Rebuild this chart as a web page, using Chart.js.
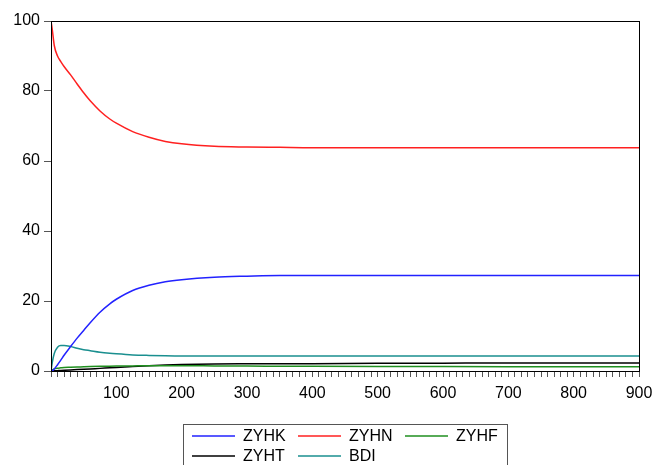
<!DOCTYPE html>
<html>
<head>
<meta charset="utf-8">
<script src="https://cdn.jsdelivr.net/npm/chart.js@4"></script>
<style>
    body { margin: 0; background: #fff; }
    #wrap { width: 656px; height: 465px; }
</style>
</head>
<body>
<div id="wrap"><canvas id="irfChart" width="656" height="465"></canvas></div>
<script>
const periods = [0, 2, 5, 10, 15, 20, 30, 40, 50, 60, 75, 90, 100, 125, 150, 175, 200, 250, 300, 350, 400, 500, 600, 700, 800, 900];

const zyhk = [0, 0.1, 0.6, 1.8, 3.1, 4.5, 7.0, 9.4, 11.6, 13.8, 16.8, 19.2, 20.5, 23.0, 24.5, 25.5, 26.1, 26.8, 27.1, 27.3, 27.3, 27.3, 27.3, 27.3, 27.3, 27.3];
const zyhn = [100, 97.5, 93, 90, 88.4, 87.0, 84.6, 82.0, 79.5, 77.2, 74.3, 72.0, 70.8, 68.4, 66.8, 65.6, 64.9, 64.2, 64.0, 63.9, 63.8, 63.8, 63.8, 63.8, 63.8, 63.8];
const zyhf = [0, 0.3, 0.6, 0.8, 0.9, 1.0, 1.05, 1.12, 1.2, 1.27, 1.34, 1.38, 1.4, 1.45, 1.5, 1.5, 1.5, 1.45, 1.4, 1.38, 1.35, 1.3, 1.27, 1.24, 1.22, 1.2];
const zyht = [0, 0.02, 0.05, 0.1, 0.15, 0.2, 0.3, 0.4, 0.5, 0.6, 0.75, 0.9, 1.0, 1.25, 1.5, 1.7, 1.85, 2.0, 2.05, 2.08, 2.1, 2.2, 2.25, 2.3, 2.3, 2.3];
const bdi = [0, 2.5, 5.0, 6.8, 7.3, 7.3, 7.0, 6.5, 6.1, 5.8, 5.35, 5.05, 4.9, 4.6, 4.45, 4.35, 4.3, 4.3, 4.3, 4.3, 4.3, 4.3, 4.3, 4.3, 4.3, 4.3];

const yTicks = [0, 20, 40, 60, 80, 100];
const xLabels = [100, 200, 300, 400, 500, 600, 700, 800, 900];

const FONT = "'Liberation Sans', Arial, sans-serif";

function pts(values) {
    return periods.map((p, i) => ({x: p, y: values[i]}));
}

function series(label, values, color) {
    return {
        label: label,
        data: pts(values),
        borderColor: color,
        borderWidth: 1.5,
        pointRadius: 0,
        cubicInterpolationMode: "monotone",
        fill: false
    };
}

// frame round the plot area and a boxed legend in three columns
const framePlugin = {
    id: "frame",
    afterDraw(chart) {
        const {ctx, chartArea: a} = chart;
        ctx.save();
        ctx.strokeStyle = "#000";
        ctx.lineWidth = 1;
        ctx.strokeRect(Math.round(a.left) + 0.5, Math.round(a.top) + 0.5,
            Math.round(a.right - a.left), Math.round(a.bottom - a.top));

        ctx.strokeStyle = "#555";
        ctx.strokeRect(183.5, 424.5, 324, 50);

        const cols = [192, 298, 405];
        const rows = [436, 456];
        ctx.font = "16px " + FONT;
        ctx.textBaseline = "middle";
        chart.data.datasets.forEach((ds, i) => {
            const x = cols[i % 3];
            const y = rows[Math.floor(i / 3)];
            ctx.strokeStyle = ds.borderColor;
            ctx.lineWidth = 1.5;
            ctx.beginPath();
            ctx.moveTo(x, y);
            ctx.lineTo(x + 43, y);
            ctx.stroke();
            ctx.fillStyle = "#000";
            ctx.fillText(ds.label, x + 51, y + 1);
        });
        ctx.restore();
    }
};

const ctx = document.getElementById("irfChart").getContext("2d");
new Chart(ctx, {
    type: "line",
    data: {
        datasets: [
            series("ZYHK", zyhk, "#2222ff"),
            series("ZYHN", zyhn, "#ff2020"),
            series("ZYHF", zyhf, "#1f8f1f"),
            series("ZYHT", zyht, "#000000"),
            series("BDI", bdi, "#1a8f8f")
        ]
    },
    options: {
        responsive: false,
        animation: false,
        layout: {padding: {left: 0, right: 17, top: 21, bottom: 64}},
        plugins: {legend: {display: false}, tooltip: {enabled: false}},
        scales: {
            x: {
                type: "linear",
                min: 0,
                max: 900,
                afterFit: s => { s.height = 30; s.paddingRight = 0; s.paddingLeft = 0; },
                border: {display: true, color: "#000"},
                grid: {display: true, drawOnChartArea: false, drawTicks: true, tickLength: 6, color: "#555"},
                ticks: {
                    stepSize: 10,
                    maxTicksLimit: 200,
                    autoSkip: false,
                    maxRotation: 0,
                    padding: 7,
                    color: "#000",
                    font: {family: FONT, size: 16},
                    callback: v => xLabels.includes(v) ? String(v) : ""
                }
            },
            y: {
                min: 0,
                max: 100,
                afterFit: s => { s.width = 51; },
                afterBuildTicks: s => { s.ticks = yTicks.map(v => ({value: v})); },
                border: {display: true, color: "#000"},
                grid: {display: true, drawOnChartArea: false, drawTicks: true, tickLength: 7, color: "#555"},
                ticks: {
                    padding: 4,
                    color: "#000",
                    font: {family: FONT, size: 16}
                }
            }
        }
    },
    plugins: [framePlugin]
});
</script>
</body>
</html>
